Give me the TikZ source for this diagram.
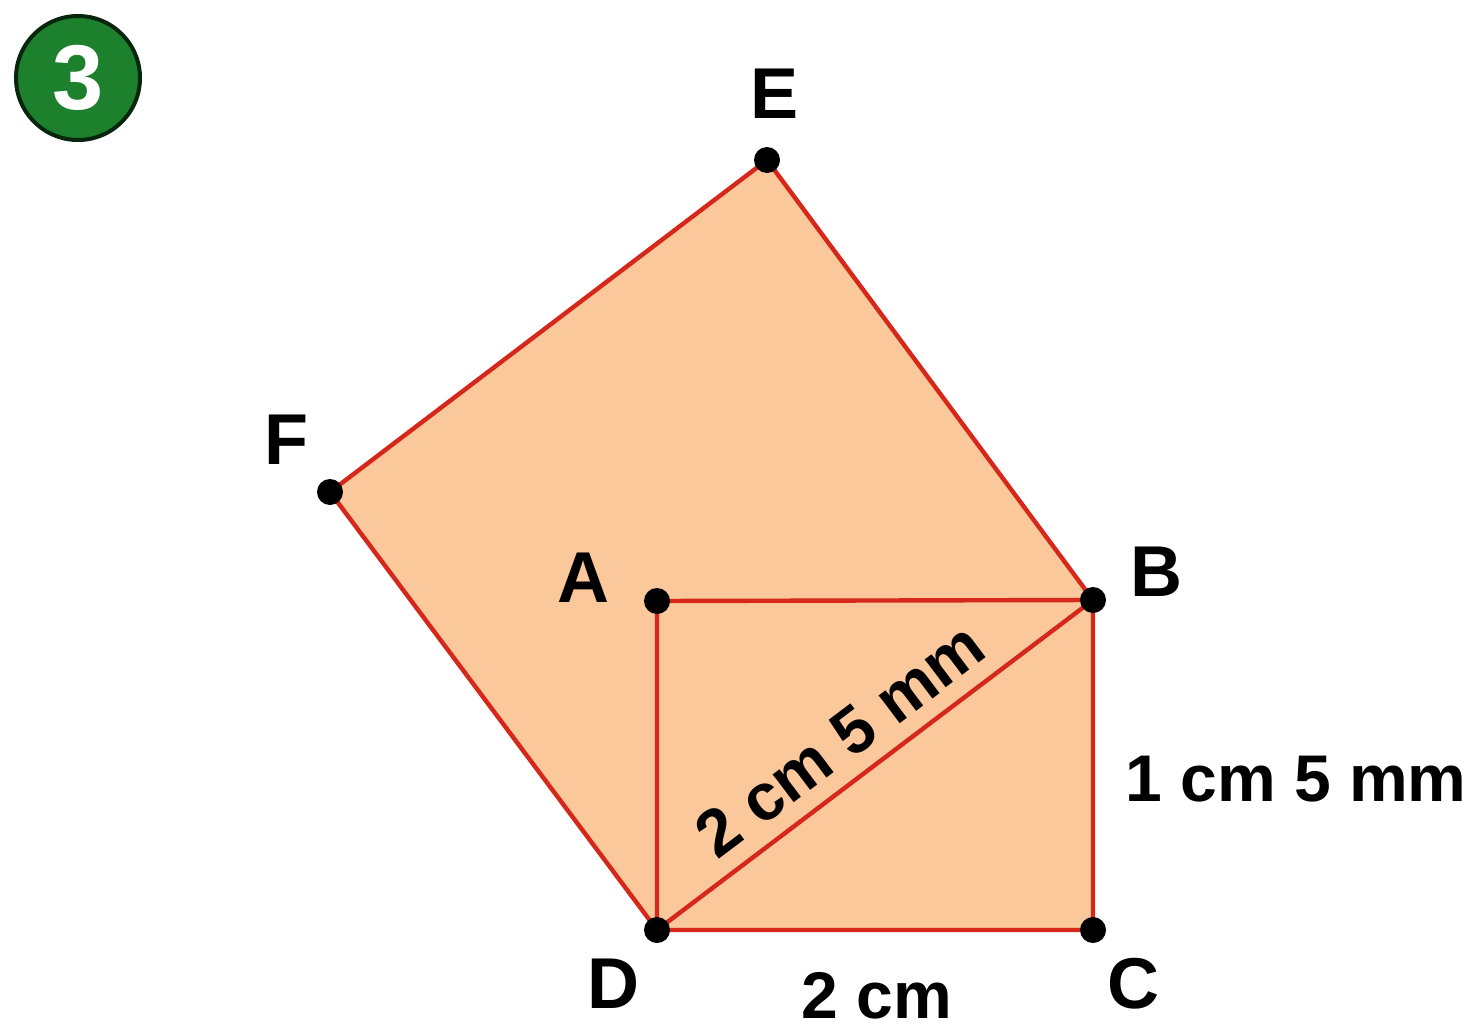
\documentclass[tikz,border=0pt]{standalone}
\usepackage{fontspec}
\setmainfont{Liberation Sans}
\definecolor{peach}{RGB}{250,200,155}
\definecolor{edgered}{RGB}{214,40,26}
\definecolor{badgegreen}{RGB}{28,128,44}
\tikzset{
  side/.style={draw=edgered,line width=2.2pt,line cap=round},
  dot/.style={circle,fill=black,inner sep=0pt,minimum size=13pt},
  vlabel/.style={inner sep=0pt,font=\fontsize{36}{40}\selectfont\bfseries},
  mlabel/.style={inner sep=0pt,font=\fontsize{33}{38}\selectfont\bfseries}
}
\begin{document}
\begin{tikzpicture}[x=0.5pt,y=0.5pt,yscale=-1]
  \useasboundingbox (0,0) rectangle (1479,1033);
  % vertices
  \coordinate (E) at (767,160);
  \coordinate (F) at (330,492);
  \coordinate (A) at (657,601);
  \coordinate (B) at (1093,600);
  \coordinate (C) at (1093,930);
  \coordinate (D) at (657,930);
  % shaded faces
  \fill[peach] (E) -- (B) -- (D) -- (F) -- cycle;
  \fill[peach] (A) -- (B) -- (C) -- (D) -- cycle;
  % edges
  \draw[side] (F) -- (E) -- (B);
  \draw[side] (F) -- (D);
  \draw[side] (A) -- (B) -- (C) -- (D) -- cycle;
  \draw[side] (D) -- (B);
  \foreach \p in {A,B,C,D,E,F}
    \node[dot] at (\p) {};
  % vertex names
  \node[vlabel] (lE) at (775,94) {E};
  \node[vlabel] (lF) at (286,440) {F};
  \node[vlabel] (lA) at (583,578) {A};
  \node[vlabel] (lB) at (1156,572) {B};
  \node[vlabel] (lC) at (1133,984) {C};
  \node[vlabel] (lD) at (613,984) {D};
  % lengths
  \node[mlabel] (lDC) at (877,996) {2 cm};
  \node[mlabel] (lBC) at (1296,779) {1 cm 5 mm};
  \node[mlabel,rotate=37] (lDB) at (840,740) {2 cm 5 mm};
  % badge
  \node[circle,fill=badgegreen,draw=black!70!badgegreen,line width=2pt,minimum size=62pt,
        text=white,font=\fontsize{46}{50}\selectfont\bfseries] (num) at (78,78) {3};
\end{tikzpicture}
\end{document}
